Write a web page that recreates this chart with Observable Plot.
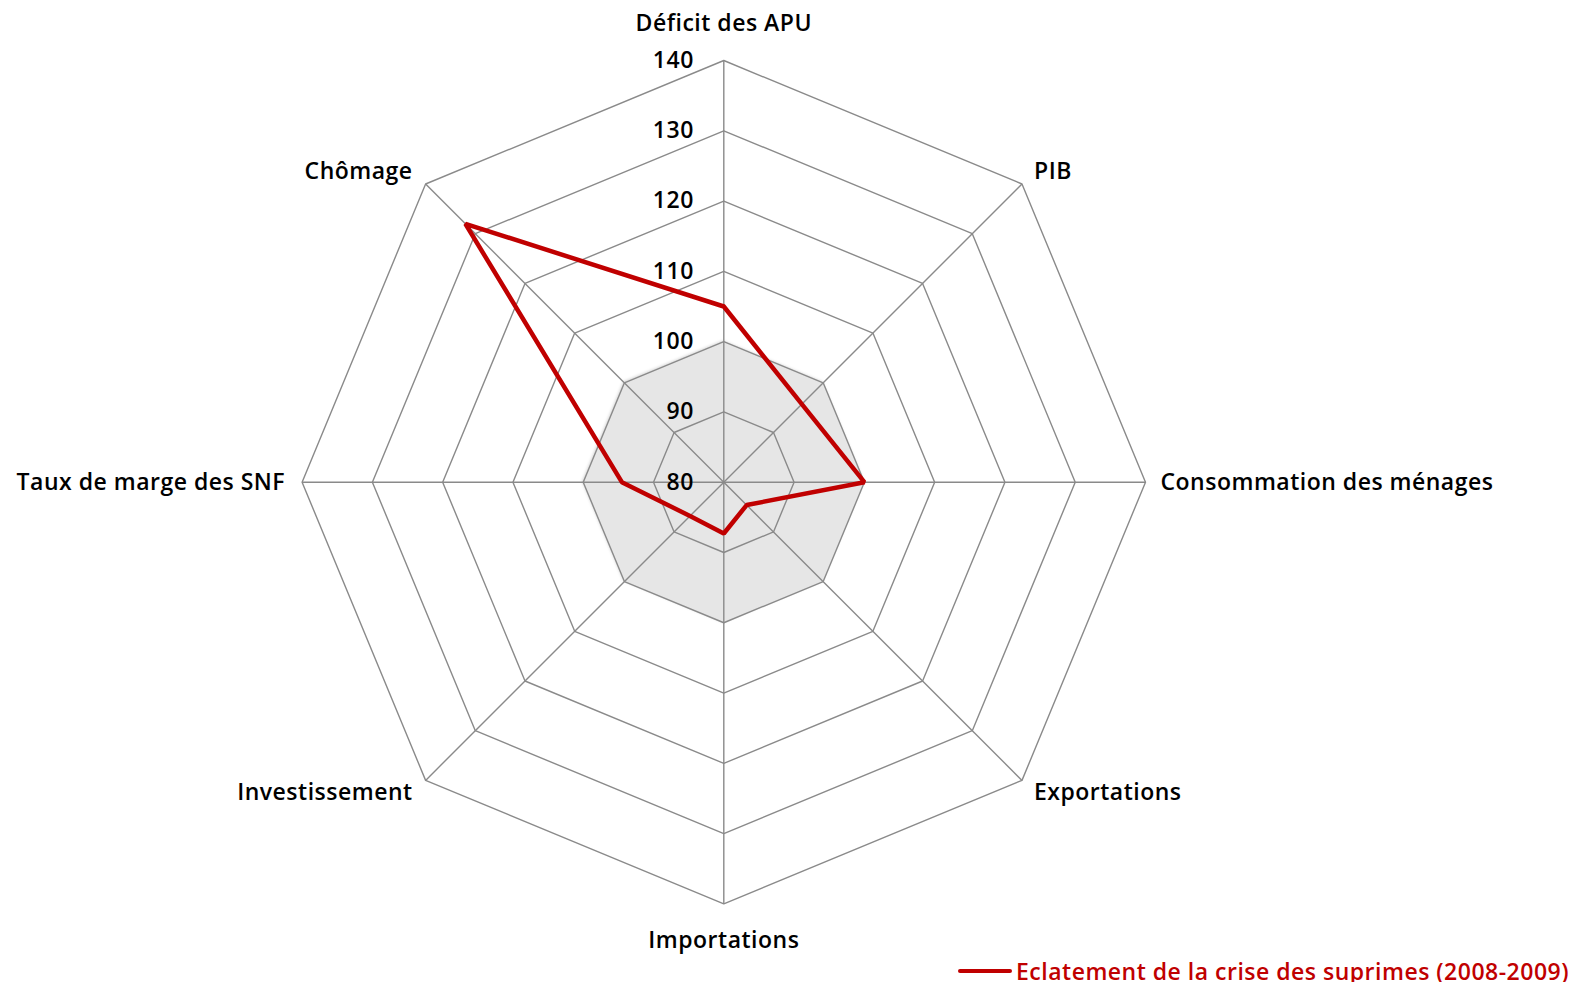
<!DOCTYPE html>
<html><head><meta charset="utf-8">
<script src="https://cdn.jsdelivr.net/npm/d3@7"></script>
<script src="https://cdn.jsdelivr.net/npm/@observablehq/plot@0.6"></script>
<style>
body{margin:0;background:#fff;font-family:"Open Sans",sans-serif;}
#chart svg{display:block;overflow:visible;}
#chart text{letter-spacing:0.5px;}
#legend{display:flex;justify-content:flex-end;align-items:center;height:22px;padding-right:6px;}
#legend .sw{display:inline-block;width:54px;height:4.5px;background:#c00000;border-radius:2.5px;margin-right:4px;}
#legend .lt{color:#c00000;font-size:23px;font-weight:600;letter-spacing:0.5px;font-family:"Open Sans",sans-serif;line-height:22px;}
</style></head><body>
<div id="chart"></div>
<div id="legend"><span class="sw"></span><span class="lt"></span></div>
<script>
const categories = ["Déficit des APU","PIB","Consommation des ménages","Exportations","Importations","Investissement","Taux de marge des SNF","Chômage"];
const crisisValues = [105, 95.7, 100, 84.6, 87.3, 86.8, 94.5, 132];
const baselineValues = [100, 100, 100, 100, 100, 100, 100, 100];
const ticks = [80, 90, 100, 110, 120, 130, 140];
const seriesName = "Eclatement de la crise des suprimes (2008-2009)";

const W = 1575, H = 960, cx = 723.3, cy = 481.7, R = 421.7;
const rScale = d3.scaleLinear().domain([d3.min(ticks), d3.max(ticks)]).range([0, R]);
const n = categories.length;
const ang = i => i * 2 * Math.PI / n;
const pt = (i, v) => ({x: rScale(v) * Math.sin(ang(i)), y: rScale(v) * Math.cos(ang(i))});
const closed = vals => d3.range(n + 1).map(k => ({...pt(k % n, vals[k % n]), i: k % n, v: vals[k % n]}));

const ringData = ticks.flatMap(t => d3.range(n + 1).map(k => ({tick: t, ...pt(k % n, t)})));
const spokes = categories.map((c, i) => ({c, ...pt(i, d3.max(ticks))}));

const font = {fontFamily: "Open Sans", fontWeight: 600, fontSize: 23, fill: "#000"};

function labelMark(i) {
  const s = Math.round(Math.sin(ang(i)) * 1000) / 1000;
  const c = Math.round(Math.cos(ang(i)) * 1000) / 1000;
  const diag = Math.abs(s) > 0.01 && Math.abs(c) > 0.01;
  const textAnchor = s > 0.01 ? "start" : s < -0.01 ? "end" : "middle";
  let dx, dy;
  if (diag) { dx = s > 0 ? 12 : -13; dy = c > 0 ? -12 : 12; }
  else if (Math.abs(c) > 0.5) { dx = 0; dy = c > 0 ? -37 : 37; }
  else { dx = s > 0 ? 15 : -17; dy = 0; }
  return Plot.text([spokes[i]], {x: "x", y: "y", text: "c", textAnchor, dx, dy, ...font});
}

const chart = Plot.plot({
  width: W, height: H, margin: 0,
  x: {domain: [-cx, W - cx], axis: null},
  y: {domain: [-(H - cy), cy], axis: null},
  marks: [
    Plot.line(closed(baselineValues), {x: "x", y: "y", fill: "#e6e6e6", stroke: "none", imageFilter: "drop-shadow(-1px -1px 1.5px rgba(0,0,0,0.18))"}),
    Plot.line(ringData, {x: "x", y: "y", z: "tick", stroke: "#8a8a8a", strokeWidth: 1.4}),
    Plot.link(spokes, {x1: () => 0, y1: () => 0, x2: "x", y2: "y", stroke: "#8a8a8a", strokeWidth: 1.4}),
    Plot.line(closed(crisisValues), {x: "x", y: "y", stroke: "#c00000", strokeWidth: 4.5, strokeLinejoin: "miter"}),
    Plot.text(ticks, {x: () => 0, y: d => rScale(d), text: d => String(d), textAnchor: "end", dx: -30, ...font}),
    ...categories.map((c, i) => labelMark(i))
  ]
});
document.getElementById("chart").appendChild(chart);
document.querySelector("#legend .lt").textContent = seriesName;
</script>
</body></html>
